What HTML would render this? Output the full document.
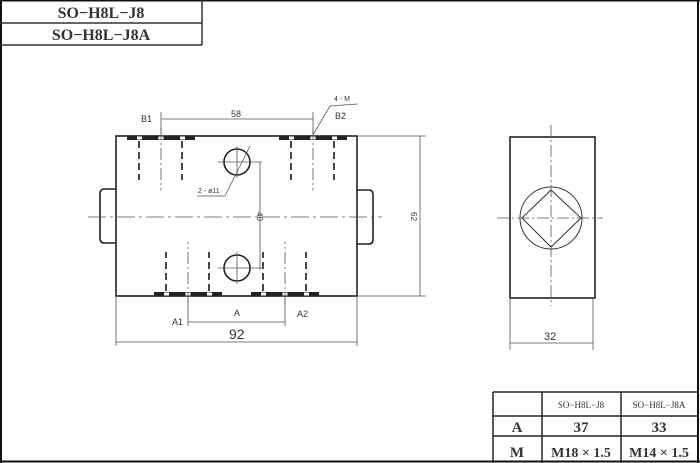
<!DOCTYPE html>
<html><head><meta charset="utf-8"><style>
html,body{margin:0;padding:0;background:#fff;}
svg{display:block;}
.s{font-family:"Liberation Serif",serif;font-weight:bold;fill:#333;}
.n{font-family:"Liberation Sans",sans-serif;fill:#333;}
</style></head><body>
<svg width="700" height="463" viewBox="0 0 700 463" xmlns="http://www.w3.org/2000/svg">
<defs>
<g id="pt">
<rect x="-34" y="0" width="68" height="4" fill="#222"/>
<rect x="-24" y="0.5" width="5" height="3" fill="#fff"/>
<rect x="-2.5" y="0.5" width="5" height="3" fill="#fff"/>
<rect x="19" y="0.5" width="5" height="3" fill="#fff"/>
<g stroke="#333" stroke-width="1.8" stroke-dasharray="7,4">
<line x1="-22" y1="5" x2="-22" y2="44"/>
<line x1="21" y1="5" x2="21" y2="44"/>
</g>
<line x1="0" y1="-8" x2="0" y2="54" stroke="#555" stroke-width="0.8" stroke-dasharray="12,3,2,3"/>
</g>
</defs>
<rect x="0" y="0" width="700" height="463" fill="#fff"/>
<g stroke="#111" fill="none">
<line x1="0" y1="0.5" x2="700" y2="0.5" stroke-width="2"/>
<line x1="1" y1="0" x2="1" y2="463" stroke-width="2"/>
<line x1="698" y1="0" x2="698" y2="463" stroke-width="2"/>
<line x1="0" y1="461.5" x2="700" y2="461.5" stroke-width="2"/>
</g>
<g stroke="#333" stroke-width="1.5" fill="none">
<line x1="0" y1="23" x2="202" y2="23"/>
<line x1="0" y1="45" x2="202" y2="45"/>
<line x1="202" y1="0" x2="202" y2="45"/>
</g>
<text class="s" x="101" y="18" font-size="16" text-anchor="middle">SO−H8L−J8</text>
<text class="s" x="101" y="40" font-size="16" text-anchor="middle">SO−H8L−J8A</text>

<g stroke="#222" fill="none" stroke-width="1.6">
<rect x="116" y="136" width="241" height="160"/>
<path d="M116 189 H104 Q100 189 100 194 V238 Q100 243 104 243 H116"/>
<path d="M357 190 H369 Q373 190 373 195 V239 Q373 244 369 244 H357"/>
<circle cx="237" cy="162" r="13"/>
<circle cx="237" cy="268" r="13"/>
</g>
<g stroke="#555" stroke-width="0.8" fill="none">
<line x1="88" y1="217" x2="382" y2="217" stroke-dasharray="18,4,3,4"/>
<line x1="218" y1="162" x2="262" y2="162"/><line x1="237" y1="146" x2="237" y2="178"/>
<line x1="218" y1="268" x2="262" y2="268"/><line x1="237" y1="252" x2="237" y2="284"/>
<line x1="260" y1="162" x2="260" y2="270"/>
<line x1="250" y1="146" x2="225" y2="196"/>
<line x1="197" y1="196" x2="225" y2="196"/>
<line x1="313" y1="135" x2="330" y2="106"/><line x1="330" y1="106" x2="358" y2="104"/>
<line x1="161" y1="112" x2="161" y2="136"/><line x1="313" y1="112" x2="313" y2="136"/>
<line x1="161" y1="119" x2="313" y2="119"/>
<line x1="357" y1="136" x2="426" y2="136"/><line x1="357" y1="296" x2="426" y2="296"/>
<line x1="420" y1="136" x2="420" y2="296"/>
<line x1="188" y1="296" x2="188" y2="326"/><line x1="285" y1="296" x2="285" y2="326"/>
<line x1="188" y1="322" x2="285" y2="322"/>
<line x1="116" y1="296" x2="116" y2="346"/><line x1="357" y1="296" x2="357" y2="346"/>
<line x1="116" y1="342" x2="357" y2="342"/>
</g>
<use href="#pt" x="161" y="136"/>
<use href="#pt" x="313" y="136"/>
<use href="#pt" transform="translate(188,296) scale(1,-1)"/>
<use href="#pt" transform="translate(285,296) scale(1,-1)"/>
<g class="n" font-size="9">
<text x="141" y="122">B1</text>
<text x="231" y="117">58</text>
<text x="335" y="119">B2</text>
<text x="334" y="101" font-size="7">4 - M</text>
<text x="198" y="193" font-size="7">2 - ø11</text>
<text x="172" y="325">A1</text>
<text x="234" y="316">A</text>
<text x="297" y="317">A2</text>
<text transform="translate(257,212) rotate(90)" font-size="8">40</text>
<text transform="translate(411,212) rotate(90)" font-size="8">62</text>
<text x="229" y="339" font-size="14">92</text>
</g>

<g stroke="#222" fill="none" stroke-width="1.6">
<rect x="510" y="137" width="85" height="161"/>
</g>
<g stroke="#333" fill="none" stroke-width="1">
<circle cx="551" cy="218" r="31"/>
<path d="M551 190 L581 218 L551 247 L522 218 Z"/>
</g>
<g stroke="#555" stroke-width="0.8" fill="none">
<line x1="551" y1="125" x2="551" y2="306" stroke-dasharray="12,3,2,3"/>
<line x1="497" y1="218" x2="603" y2="218" stroke-dasharray="12,3,2,3"/>
<line x1="510" y1="298" x2="510" y2="350"/><line x1="593" y1="298" x2="593" y2="350"/>
<line x1="510" y1="343" x2="593" y2="343"/>
</g>
<text class="n" x="544" y="340" font-size="11">32</text>

<g stroke="#222" stroke-width="1.5" fill="none">
<line x1="493" y1="392" x2="698" y2="392"/>
<line x1="493" y1="416" x2="698" y2="416"/>
<line x1="493" y1="436" x2="698" y2="436"/>
<line x1="493" y1="392" x2="493" y2="463"/>
<line x1="542" y1="392" x2="542" y2="463"/>
<line x1="621" y1="392" x2="621" y2="463"/>
</g>
<g class="s" text-anchor="middle">
<text x="581" y="408" font-size="9" font-weight="normal">SO−H8L−J8</text>
<text x="659" y="408" font-size="9" font-weight="normal">SO−H8L−J8A</text>
<text x="517" y="432" font-size="15">A</text>
<text x="581" y="432" font-size="15">37</text>
<text x="659" y="432" font-size="15">33</text>
<text x="517" y="457" font-size="15">M</text>
<text x="581" y="457" font-size="14">M18 × 1.5</text>
<text x="659" y="457" font-size="14">M14 × 1.5</text>
</g>
</svg>
</body></html>
